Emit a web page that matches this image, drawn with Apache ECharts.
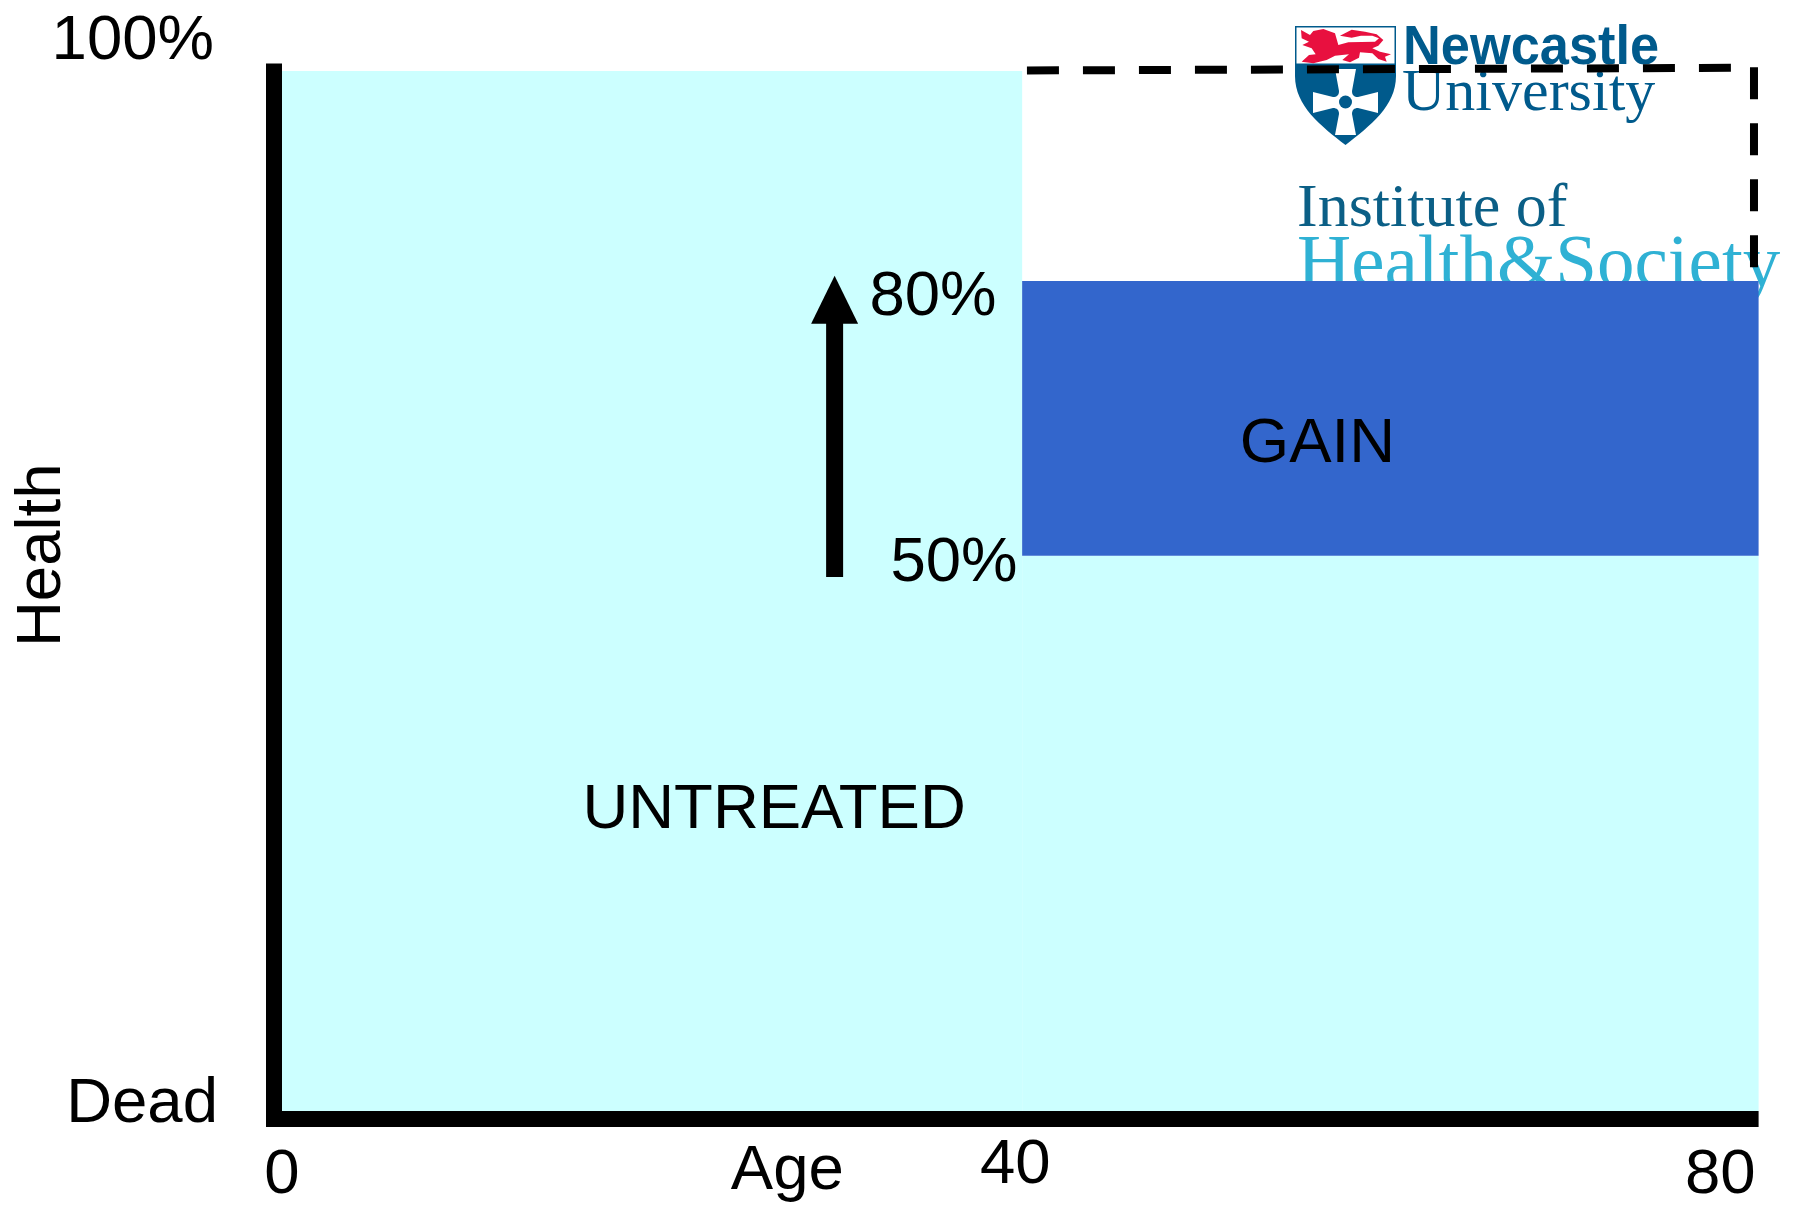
<!DOCTYPE html>
<html><head><meta charset="utf-8">
<style>html,body{margin:0;padding:0;background:#fff}#c{width:1794px;height:1206px}</style>
<script src="https://cdn.jsdelivr.net/npm/echarts@6/dist/echarts.min.js"></script>
</head><body><div id="c"></div>
<script>
// x0, x1, y0, y1 in age / health units
const untreatedRegions = [[0, 40.1, 0, 100], [40.1, 80, 0, 53.4]];
const gainRegions = [[40.1, 80, 53.4, 79.8]];
const dashedTop = [[40.36, 100.05], [78.5, 100.3]];
const dashedRight = [[79.75, 100.35], [79.75, 81.1]];
const arrowPath = [[29.94, 51.35], [29.94, 78]];
const xTicks = [0, 40, 80];
const yTicks = [0, 100];
const yTickNames = {0: 'Dead', 100: '100%'};
const annotations = [
  ['UNTREATED', 26.66, 28.92],
  ['GAIN', 56.1, 64.1],
  ['80%', 35.27, 78.2],
  ['50%', 36.41, 52.6]
];
const FONT = '"Liberation Sans", Arial, sans-serif';
const SIZE = 63.5;
const NAVY = '#005a8c';
const LION = 'M48 45L75 60L85 48L115 42L150 55L160 90L190 82L270 80L282 70L262 62L228 62L200 68L165 62L200 44L240 50L275 58L295 75L280 92L262 100L285 110L318 118L300 125L305 140L280 132L262 115L225 112L222 128L195 142L172 135L192 118L150 122L125 135L85 145L50 140L72 120L92 118L80 100L52 90L72 80L50 70Z';
const CROSS = 'M22 0H43L39 22C39 26 41 28 45 28L65 23V44L45 39C41 39 39 41 39 45L43 66H22L26 45C26 41 24 39 20 39L0 44V23L20 28C24 28 26 26 26 22Z';

function rectSeries(name, data, color) {
  return {
    type: 'custom', name, data, z: 2, silent: true, clip: false,
    encode: {x: [0, 1], y: [2, 3]},
    renderItem(params, api) {
      const a = api.coord([api.value(0), api.value(3)]);
      const b = api.coord([api.value(1), api.value(2)]);
      return {type: 'rect', shape: {x: a[0], y: a[1], width: b[0] - a[0], height: b[1] - a[1]}, style: {fill: color}};
    }
  };
}
function dashSeries(name, data) {
  return {type: 'line', name, data, clip: false, z: 4, symbol: 'none', silent: true,
    lineStyle: {color: '#000', width: 8, type: [32, 24], cap: 'butt'}};
}
const logoParts = [
  {type: 'path', shape: {pathData: 'M0 0H101V50C101 80 75 100 50.5 119C26 100 0 80 0 50Z', x: 1295, y: 26, width: 101, height: 119, layout: 'cover'}, style: {fill: NAVY}},
  {type: 'rect', shape: {x: 1296.5, y: 27.5, width: 98, height: 36}, style: {fill: '#fff'}},
  {type: 'path', shape: {pathData: LION, x: 1301, y: 29, width: 90, height: 34.3, layout: 'cover'}, style: {fill: '#e8103f'}},
  {type: 'path', shape: {pathData: CROSS, x: 1313, y: 69, width: 65, height: 66, layout: 'cover'}, style: {fill: '#fff'}},
  {type: 'circle', shape: {cx: 1345.5, cy: 102, r: 6.5}, style: {fill: NAVY}},
  {type: 'text', x: 1403, y: 20.3, scaleX: 0.935, style: {text: 'Newcastle', font: 'bold 56px "Liberation Sans"', fill: NAVY}},
  {type: 'text', x: 1402, y: 64, style: {text: 'University', font: '60px "Liberation Serif"', fill: NAVY}},
  {type: 'text', x: 1297, y: 178.6, style: {text: 'Institute of', font: '62px "Liberation Serif"', fill: '#0b5f86'}},
  {type: 'text', x: 1297, y: 228.5, style: {text: 'Health&Society', font: '75px "Liberation Serif"', fill: '#2fb1d4'}}
];
const richBase = {fontSize: SIZE, fontFamily: FONT, color: '#000'};

const chart = echarts.init(document.getElementById('c'), null, {renderer: 'canvas'});
chart.setOption({
  animation: false,
  backgroundColor: '#fff',
  textStyle: {fontFamily: FONT},
  grid: {left: 266, right: 35.4, top: 63.5, bottom: 79, outerBoundsMode: 'none'},
  xAxis: {
    type: 'value', min: -0.867, max: 80, offset: -8, splitLine: {show: false},
    axisLine: {show: true, onZero: false, lineStyle: {color: '#000', width: 16, cap: 'butt'}}, axisTick: {show: false},
    name: 'Age', nameLocation: 'middle', nameGap: 20, nameMoveOverlap: false,
    nameTextStyle: {fontSize: SIZE, color: '#000', fontFamily: FONT, padding: [0, 450, 0, 0]},
    axisLabel: {
      customValues: xTicks, margin: 14, alignMaxLabel: 'right', hideOverlap: false, color: '#000',
      fontSize: SIZE, fontFamily: FONT,
      formatter: v => v === 40 ? '{mid|40}' : v === 0 ? '{low|0}' : '{end|' + v + '}',
      rich: {
        mid: Object.assign({padding: [0, 10, 0, 0]}, richBase),
        low: Object.assign({padding: [10, 0, 0, 0]}, richBase),
        end: Object.assign({padding: [10, 3, 0, 0]}, richBase)
      }
    }
  },
  yAxis: {
    type: 'value', min: -1.538, max: 100.72, offset: -8, splitLine: {show: false},
    axisLine: {show: true, onZero: false, lineStyle: {color: '#000', width: 16, cap: 'butt'}}, axisTick: {show: false},
    name: 'Health', nameLocation: 'middle', nameGap: 200, nameRotate: 90, nameMoveOverlap: false,
    nameTextStyle: {fontSize: SIZE, color: '#000', fontFamily: FONT, padding: [0, 0, 0, 80]},
    axisLabel: {
      customValues: yTicks, margin: 56, hideOverlap: false, color: '#000', fontSize: SIZE, fontFamily: FONT,
      formatter: v => v === 100 ? '{top|' + yTickNames[v] + '}' : '{low|' + yTickNames[v] + '}',
      rich: {
        top: Object.assign({padding: [0, 4, 60, 0]}, richBase),
        low: Object.assign({padding: [0, 0, 13, 0]}, richBase)
      }
    }
  },
  series: [
    {
      type: 'custom', name: 'Logo', coordinateSystem: 'none', data: [0], z: 1, silent: true,
      renderItem: () => ({type: 'group', children: logoParts})
    },
    rectSeries('Untreated', untreatedRegions, '#ccffff'),
    rectSeries('Gain', gainRegions, '#3366cc'),
    dashSeries('Maximum top', dashedTop),
    dashSeries('Maximum right', dashedRight),
    {
      type: 'line', name: 'Improvement', clip: false, z: 5, silent: true,
      data: arrowPath.map((p, i) => i === 1
        ? {value: p, symbol: 'triangle', symbolSize: [47, 48]}
        : {value: p, symbol: 'none'}),
      showSymbol: true, showAllSymbol: true,
      itemStyle: {color: '#000', opacity: 1},
      lineStyle: {color: '#000', width: 17, cap: 'butt'}
    },
    {
      type: 'scatter', name: 'Annotations', z: 6, silent: true, clip: false, symbolSize: 0,
      itemStyle: {opacity: 1},
      data: annotations.map(a => ({name: a[0], value: [a[1], a[2]]})),
      label: {show: true, position: 'inside', formatter: p => p.name, color: '#000', fontSize: SIZE, fontFamily: FONT}
    }
  ]
});
</script></body></html>
